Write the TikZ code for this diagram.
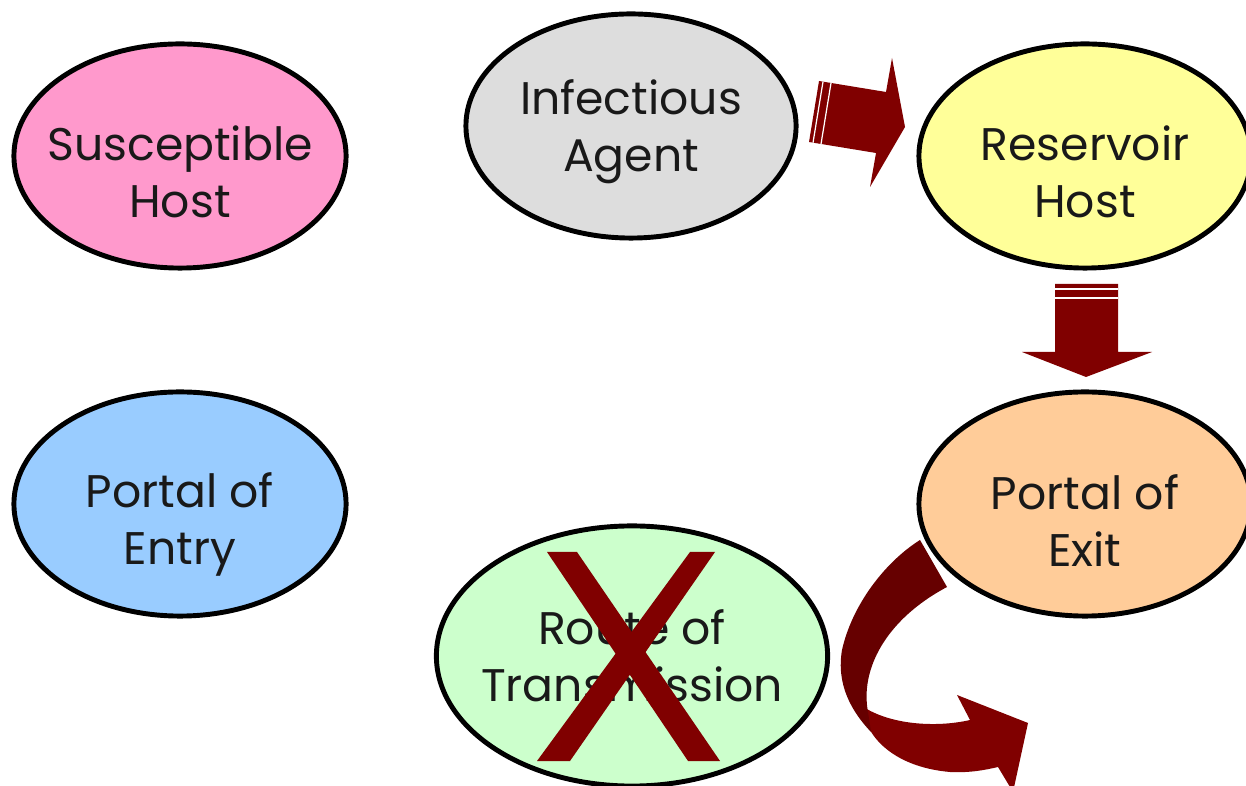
\documentclass[tikz,border=0pt]{standalone}
\usepackage{fontspec}
\setmainfont{Poppins}
\usetikzlibrary{shapes.geometric}
\definecolor{maroon}{HTML}{800000}
\definecolor{darkmaroon}{HTML}{660000}
\definecolor{hostpink}{HTML}{FF99CC}
\definecolor{agentgray}{HTML}{DDDDDD}
\definecolor{reservoiryellow}{HTML}{FFFF99}
\definecolor{entryblue}{HTML}{99CCFF}
\definecolor{exitorange}{HTML}{FFCC99}
\definecolor{routegreen}{HTML}{CCFFCC}

\begin{document}
\begin{tikzpicture}[
  x=0.01cm, y=-0.01cm,
  stage/.style={
    ellipse,
    draw=black,
    line width=1.4pt,
    inner sep=0pt,
    minimum width=3.32cm,
    minimum height=2.24cm
  },
  caption/.style={
    align=center,
    inner sep=0pt,
    text=black!90,
    font=\fontsize{13}{16.2}\selectfont
  },
  bigarrow/.style={fill=maroon, draw=none},
  stripe/.style={draw=white, line width=0.35pt}
]
\useasboundingbox (0,0) rectangle (1246,786);

% the six links of the chain
\node[stage, fill=hostpink, label={[caption, yshift=-0.16cm]center:Susceptible\\Host}] (susceptible) at (180,156) {};
\node[stage, fill=agentgray, minimum width=3.3cm, label={[caption, yshift=-0.06cm]center:Infectious\\Agent}] (agent) at (631,126) {};
\node[stage, fill=reservoiryellow, label={[caption, yshift=-0.16cm]center:Reservoir\\Host}] (reservoir) at (1085,156) {};
\node[stage, fill=entryblue, label={[caption, yshift=-0.2cm]center:Portal of\\Entry}] (entry) at (180,504) {};
\node[stage, fill=exitorange, label={[caption, yshift=-0.17cm]center:Portal of\\Exit}] (exit) at (1085,504) {};
\node[stage, fill=routegreen, minimum width=3.91cm, minimum height=2.6cm, label={[caption, yshift=0cm]center:Route of\\Transmission}] (route) at (632,656) {};

% agent -> reservoir
\fill[bigarrow] (819,81) -- (886,92) -- (892,58) -- (905,127) -- (870,187) -- (876,153) -- (809,142) -- cycle;
\draw[stripe] (823,81.7) -- (813,142.7);
\draw[stripe] (831,83) -- (821,144);

% reservoir -> exit
\fill[bigarrow] (1055,284) -- (1118,284) -- (1118,352) -- (1152,352) -- (1086,377) -- (1022,352) -- (1055,352) -- cycle;
\draw[stripe] (1055,289) -- (1118,289);
\draw[stripe] (1055,298) -- (1118,298);

% exit -> onward (curved)
\fill[bigarrow] (870,730) .. controls (880,748) and (905,768) .. (950,772)
  .. controls (970,773) and (985,770) .. (998,767)
  -- (1013,792) -- (1028,723) -- (957,695) -- (970,720)
  .. controls (940,727) and (895,726) .. (865,708) -- cycle;
\fill[darkmaroon] (920,540) .. controls (885,562) and (852,605) .. (842,650)
  .. controls (836,685) and (852,712) .. (871,732)
  -- (868,712) .. controls (860,670) and (885,620) .. (947,587) -- cycle;

% broken link
\fill[maroon] (547,552) -- (577,552) -- (720,761) -- (688,761) -- cycle;
\fill[maroon] (690,552) -- (715,552) -- (570,761) -- (537,761) -- cycle;

\end{tikzpicture}
\end{document}
